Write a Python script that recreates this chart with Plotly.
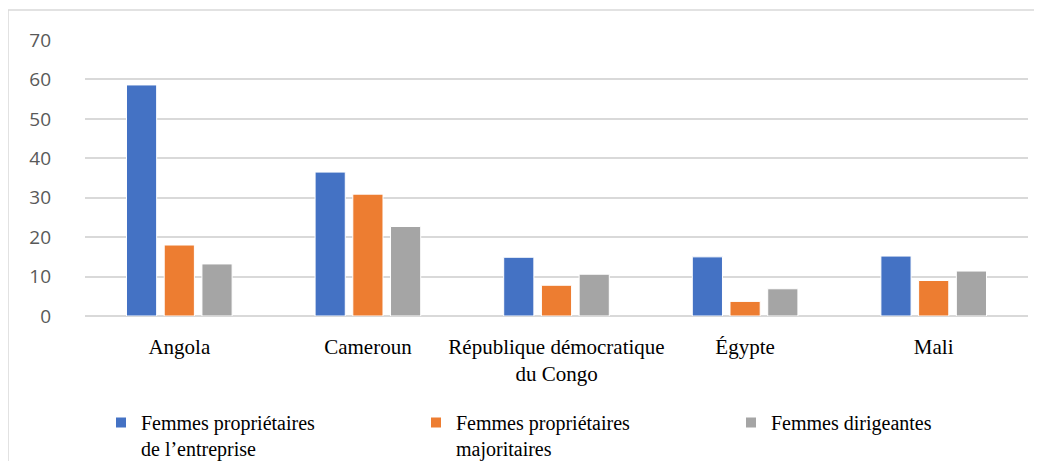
import plotly.graph_objects as go

# données
pays = ['Angola', 'Cameroun', 'République démocratique<br>du Congo', 'Égypte', 'Mali']
proprietaires = [58.6, 36.5, 14.9, 15.0, 15.2]
majoritaires = [18.0, 30.9, 7.8, 3.7, 9.0]
dirigeantes = [13.2, 22.7, 10.6, 6.9, 11.4]

series = [
    ('Femmes propriétaires<br>de l’entreprise', proprietaires, '#4472C4'),
    ('Femmes propriétaires<br>majoritaires', majoritaires, '#ED7D31'),
    ('Femmes dirigeantes', dirigeantes, '#A5A5A5'),
]

W, H = 1042, 461
off = 8  # marge du body de la page
# zone de tracé voulue (pixels de l'écran): 85..1028 x 40..316
ml, mr, mt, mb = 85 - off, W - 1028 + off, 40 - off, H - 316 + off
pw, ph = W - ml - mr, H - mt - mb
bas = H - mb  # bas de la zone de tracé (coord. figure)

def px_x(x):
    return (x - off - ml) / pw

def px_y(y):
    return (bas - (y - off)) / ph

fig = go.Figure()
for nom, vals, col in series:
    fig.add_trace(go.Bar(x=pays, y=vals, name=nom,
                         marker=dict(color=col, line=dict(color='white', width=1))))

serif = 'Liberation Serif, Times New Roman, serif'

fig.update_layout(
    width=W, height=H,
    margin=dict(l=ml, r=mr, t=mt, b=mb, autoexpand=False),
    paper_bgcolor='white', plot_bgcolor='white',
    barmode='group', bargap=0.4, bargroupgap=0.2,
    showlegend=True,
    legend=dict(orientation='h', x=px_x(101), xanchor='left',
                y=px_y(403), yanchor='top', valign='top',
                font=dict(family=serif, size=20, color='black'),
                entrywidth=270, entrywidthmode='pixels',
                itemsizing='constant', traceorder='normal',
                bgcolor='rgba(0,0,0,0)'),
    xaxis=dict(tickfont=dict(family=serif, size=21, color='black'),
               showgrid=False, showline=False, ticks='',
               ticklabelstandoff=16),
    yaxis=dict(range=[0, 70], dtick=10, showgrid=True, gridcolor='#d9d9d9', gridwidth=2,
               zeroline=True, zerolinecolor='#d9d9d9', zerolinewidth=2,
               tickfont=dict(family='Open Sans, Noto Sans, sans-serif', size=19, color='#595959'),
               ticklabelstandoff=33),
    shapes=[dict(type='rect', xref='paper', yref='paper',
                 x0=px_x(8), x1=px_x(1039),
                 y0=px_y(480), y1=px_y(10),
                 line=dict(color='#d9d9d9', width=1.5), layer='below')],
)

fig.write_html('out.html')
